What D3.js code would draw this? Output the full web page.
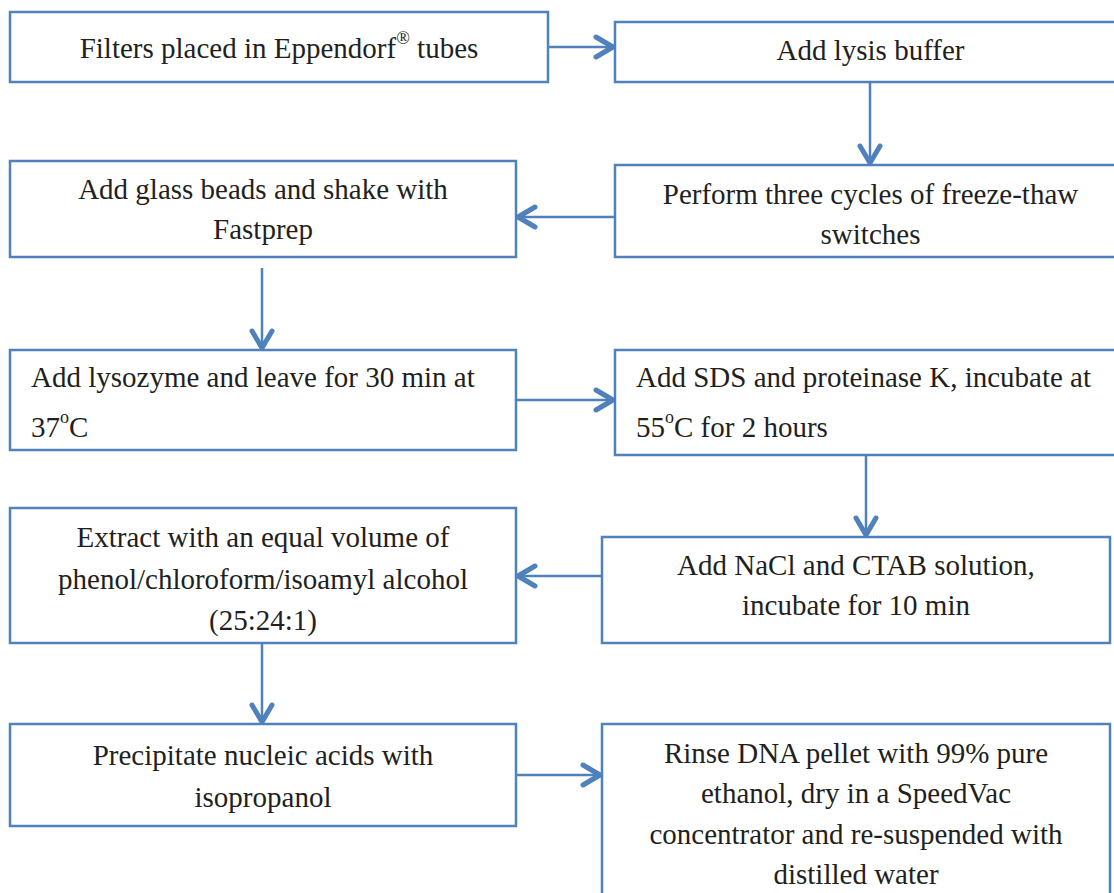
<!DOCTYPE html>
<html lang="en">
<head>
    <meta charset="UTF-8">
    <title>DNA extraction flowchart</title>
    <script src="https://cdn.jsdelivr.net/npm/d3@7/dist/d3.min.js"></script>
    <style>
        body { margin: 0; background: #fff; }
    </style>
</head>
<body>
<script>
    const width = 1114;
    const height = 893;
    const blue = "#4f81bd";
    const serif = '"Liberation Serif", "Times New Roman", serif';

    // step texts, one entry per line; ^x^ marks superscript
    const steps = [
        ["Filters placed in Eppendorf^®^ tubes"],
        ["Add lysis buffer"],
        ["Perform three cycles of freeze-thaw", "switches"],
        ["Add glass beads and shake with", "Fastprep"],
        ["Add lysozyme and leave for 30 min at", "37^o^C"],
        ["Add SDS and proteinase K, incubate at", "55^o^C for 2 hours"],
        ["Add NaCl and CTAB solution,", "incubate for 10 min"],
        ["Extract with an equal volume of", "phenol/chloroform/isoamyl alcohol", "(25:24:1)"],
        ["Precipitate nucleic acids with", "isopropanol"],
        ["Rinse DNA pellet with 99% pure", "ethanol, dry in a SpeedVac", "concentrator and re-suspended with", "distilled water"]
    ];
    const leftAligned = [4, 5];
    // flow order: from -> to
    const links = [[0, 1], [1, 2], [2, 3], [3, 4], [4, 5], [5, 6], [6, 7], [7, 8], [8, 9]];

    // layout (pixels)
    const layout = [
        {x0: 10, x1: 548, y0: 12, y1: 82},
        {x0: 615, x1: 1126, y0: 22, y1: 82},
        {x0: 615, x1: 1126, y0: 165, y1: 257},
        {x0: 10, x1: 516, y0: 161, y1: 257},
        {x0: 10, x1: 516, y0: 350, y1: 450},
        {x0: 615, x1: 1126, y0: 350, y1: 455},
        {x0: 602, x1: 1110, y0: 537, y1: 643},
        {x0: 10, x1: 516, y0: 508, y1: 643},
        {x0: 10, x1: 516, y0: 724, y1: 826},
        {x0: 602, x1: 1110, y0: 724, y1: 905}
    ];
    // where each arrow crosses the gap (x for vertical, y for horizontal), and gap at its start
    const linkAt = [47, 870, 217, 262, 400, 866, 576, 262, 775];
    const linkStartGap = [0, 0, 0, 11, 0, 0, 0, 0, 0];
    // first baseline and line gap per box
    const textTop = [58, 60, 204, 199, 387, 387, 575, 547, 765, 763];
    const lineGap = [41, 41, 40, 40, 50, 50, 40, 41.5, 42, 40.3];

    const svg = d3.select("body").append("svg")
            .attr("width", width).attr("height", height);

    const nodes = steps.map((lines, i) => Object.assign({lines, i}, layout[i]));

    svg.selectAll("rect.box")
        .data(nodes)
        .enter()
        .append("rect")
        .attr("class", "box")
        .attr("x", d => d.x0)
        .attr("y", d => d.y0)
        .attr("width", d => d.x1 - d.x0)
        .attr("height", d => d.y1 - d.y0)
        .style("fill", "#fff")
        .style("stroke", blue)
        .style("stroke-width", 2.5);

    // one text element per line
    const lineData = [];
    nodes.forEach(d => {
        const left = leftAligned.includes(d.i);
        const cx = left ? d.x0 + 21 : (d.x0 + Math.min(d.x1, width + 12)) / 2;
        d.lines.forEach((line, k) => {
            lineData.push({line, x: cx, y: textTop[d.i] + k * lineGap[d.i], anchor: left ? "start" : "middle"});
        });
    });

    const texts = svg.selectAll("text.step")
        .data(lineData)
        .enter()
        .append("text")
        .attr("class", "step")
        .attr("x", d => d.x)
        .attr("y", d => d.y)
        .attr("text-anchor", d => d.anchor)
        .attr("font-family", serif)
        .attr("font-size", 29)
        .attr("fill", "#231f20")
        .style("font-family", serif);

    texts.each(function(d) {
        const t = d3.select(this);
        const parts = d.line.split("^");
        if (parts.length === 1) { t.text(d.line); return; }
        parts.forEach((p, j) => {
            if (!p) return;
            const ts = t.append("tspan").text(p).style("font-family", serif);
            if (j % 2 === 1) ts.attr("dy", -14).attr("font-size", 18);
            else if (j > 0) ts.attr("dy", 14);
        });
    });

    // arrows
    function anchor([a, b], k) {
        const A = layout[a], B = layout[b];
        const at = linkAt[k], g = linkStartGap[k];
        if (A.y1 <= B.y0) return {x1: at, y1: A.y1 + g, x2: at, y2: B.y0, dir: "down"};
        if (A.x1 <= B.x0) return {x1: A.x1 + g, y1: at, x2: B.x0, y2: at, dir: "right"};
        return {x1: A.x0 - g, y1: at, x2: B.x1, y2: at, dir: "left"};
    }

    const arrows = links.map(anchor);

    svg.selectAll("line.link")
        .data(arrows)
        .enter()
        .append("line")
        .attr("class", "link")
        .attr("x1", d => d.x1).attr("y1", d => d.y1)
        .attr("x2", d => d.x2).attr("y2", d => d.y2)
        .style("stroke", blue)
        .style("stroke-width", 2.5);

    const headPath = d => {
        const s = 17, w = 10, o = 2;
        if (d.dir === "down") return `M${d.x2 - w},${d.y2 - s - o}L${d.x2},${d.y2 - o}L${d.x2 + w},${d.y2 - s - o}`;
        if (d.dir === "right") return `M${d.x2 - s - o},${d.y2 - w}L${d.x2 - o},${d.y2}L${d.x2 - s - o},${d.y2 + w}`;
        return `M${d.x2 + s + o},${d.y2 - w}L${d.x2 + o},${d.y2}L${d.x2 + s + o},${d.y2 + w}`;
    };

    svg.selectAll("path.head")
        .data(arrows)
        .enter()
        .append("path")
        .attr("class", "head")
        .attr("d", headPath)
        .style("fill", "none")
        .style("stroke", blue)
        .style("stroke-width", 5)
        .style("stroke-linecap", "round")
        .style("stroke-linejoin", "round");
</script>

</body>
</html>
